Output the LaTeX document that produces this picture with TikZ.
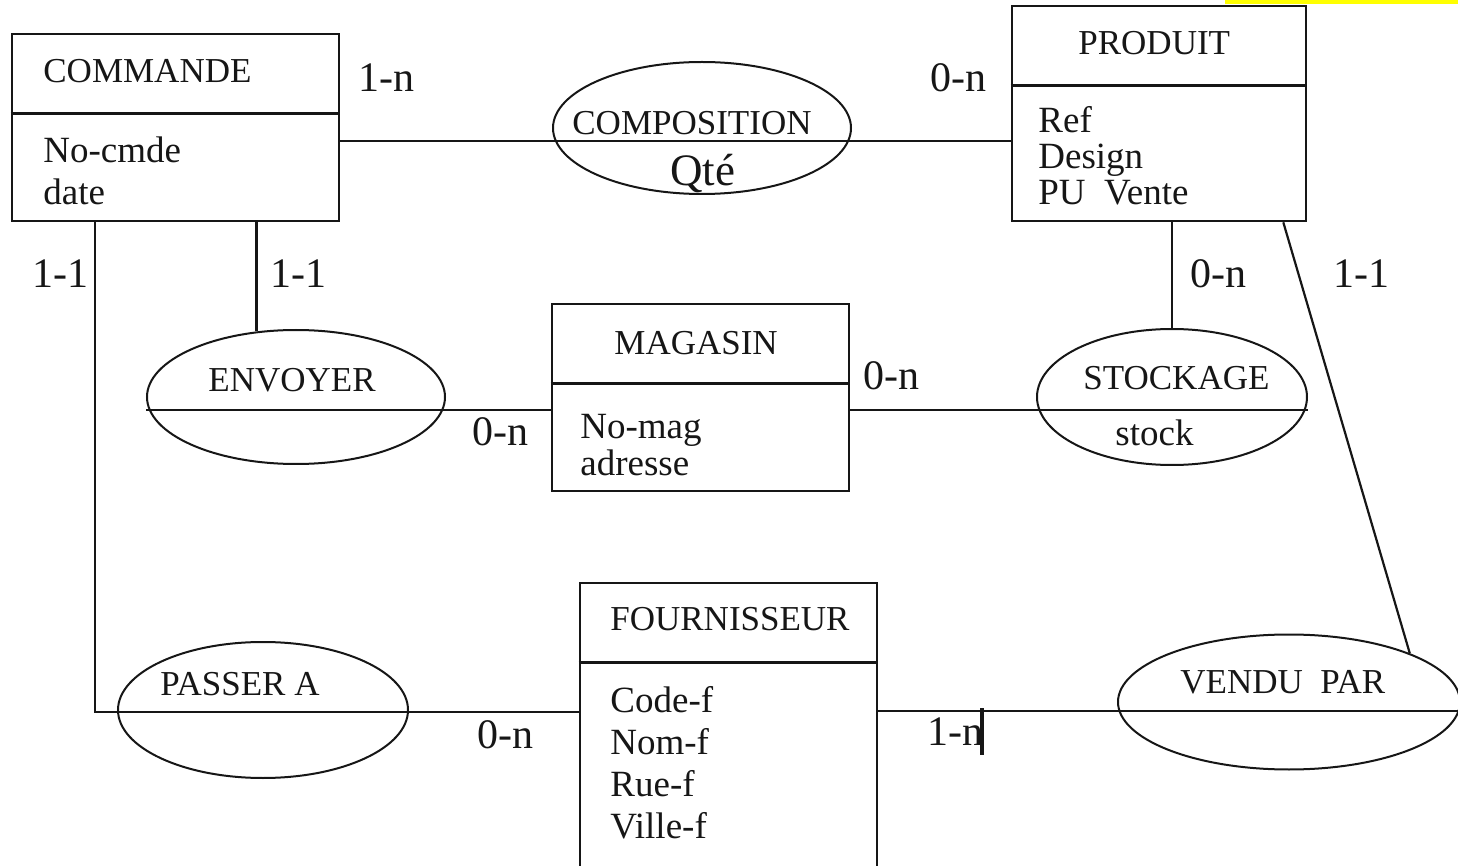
\documentclass[tikz,border=0pt]{standalone}
\usepackage{fontspec}
\setmainfont{Liberation Serif}
\usetikzlibrary{shapes.geometric}
\definecolor{cyellow}{HTML}{FFFF00}
\definecolor{cink}{HTML}{161616}

\begin{document}
\begin{tikzpicture}[x=0.5pt, y=-0.5pt,
  entity/.style={draw=cink, line width=1.3pt, inner sep=0pt},
  assoc/.style={draw=cink, ellipse, line width=1pt, inner sep=0pt},
  link/.style={draw=cink, line width=1.1pt},
  lbl/.style={anchor=base west, inner sep=0pt, text=cink, font=\fontsize{17.5}{20}\selectfont},
  attr/.style={lbl, font=\fontsize{18.5}{21}\selectfont},
  card/.style={lbl, font=\fontsize{21}{24}\selectfont}]

  \useasboundingbox (0,0) rectangle (1458,866);
  \clip (0,0) rectangle (1458,866);
  \fill[cyellow] (1225,0) rectangle (1458,4);

  % entites
  \node[entity, minimum width=163.5pt, minimum height=93.5pt] (cmd) at (175.5,127.5) {};
  \node[entity, minimum width=147pt, minimum height=107.5pt] (prod) at (1159,113.5) {};
  \node[entity, minimum width=148.5pt, minimum height=93.5pt] (mag) at (700.5,397.5) {};
  \node[entity, minimum width=148.5pt, minimum height=150pt] (four) at (728.5,733) {};
  \foreach \e in {cmd,prod,mag,four}
    \draw[entity] ([yshift=-40.5pt]\e.north west) -- ([yshift=-40.5pt]\e.north east);

  % associations
  \node[assoc, minimum width=149pt, minimum height=66pt] (compo) at (702,128) {};
  \node[assoc, minimum width=149pt, minimum height=67pt] (envoi) at (296,397) {};
  \node[assoc, minimum width=135pt, minimum height=68pt] (stock) at (1172,397) {};
  \node[assoc, minimum width=145pt, minimum height=68pt] (passer) at (263,710) {};
  \node[assoc, minimum width=171pt, minimum height=67.5pt] (vendu) at (1289,702) {};

  % liens
  \coordinate (yComp) at (0,141);
  \coordinate (yMid) at (0,410);
  \coordinate (xLeft) at (95,712);
  \coordinate (yEdge) at (1462,711);
  \draw[link] (cmd.east |- yComp) -- (prod.west |- yComp);
  \draw[link] (envoi.west |- yMid) -- (mag.west |- yMid);
  \draw[link] (mag.east |- yMid) -- (stock.east |- yMid);
  \draw[link] (cmd.south -| envoi.121) -- (envoi.121);
  \draw[link] (prod.south -| stock.north) -- (stock.north);
  \draw[link] (cmd.south -| xLeft) |- (four.west |- xLeft);
  \draw[link] (four.east |- yEdge) -- (yEdge);
  \draw[link] ([xshift=-12pt]prod.south east) -- (vendu.22);

  % textes
  \node[lbl] (cmdT) at (43,83) {COMMANDE};
  \node[lbl] (prodT) at (1078,55) {PRODUIT};
  \node[lbl] (magT) at (614,355) {MAGASIN};
  \node[lbl] (fourT) at (610,630) {FOURNISSEUR};
  \node[lbl] (compoT) at (572,135) {COMPOSITION};
  \node[lbl, font=\fontsize{22.5}{26}\selectfont] (compoQ) at (670,186) {Qté};
  \node[lbl] (envoiT) at (208,392) {ENVOYER};
  \node[lbl] (stockT) at (1083,390) {STOCKAGE};
  \node[attr] (stockA) at (1115,445) {stock};
  \node[lbl] (passerT) at (160,695) {PASSER A};
  \node[lbl] (venduT) at (1180,693) {VENDU\ \ PAR};

  \foreach \t [count=\i from 0] in {No-cmde,date}
    \node[attr] (cmdA\i) at (43,163+42*\i) {\t};
  \foreach \t [count=\i from 0] in {Ref,Design,PU\ \ Vente}
    \node[attr] (prodA\i) at (1038,133+36*\i) {\t};
  \foreach \t [count=\i from 0] in {No-mag,adresse}
    \node[attr] (magA\i) at (580,438+37*\i) {\t};
  \foreach \t [count=\i from 0] in {Code-f,Nom-f,Rue-f,Ville-f}
    \node[attr] (fourA\i) at (610,712+42*\i) {\t};

  % cardinalites
  \foreach \x/\y/\t [count=\i] in {358/92/1-n, 930/92/0-n, 32/288/1-1, 270/288/1-1,
      1190/288/0-n, 1333/288/1-1, 863/390/0-n, 472/445/0-n, 477/748/0-n, 927/745/1-n}
    \node[card] (card\i) at (\x,\y) {\t};
  \draw[cink, line width=1.6pt] (982,708) -- (982,755);
\end{tikzpicture}
\end{document}
